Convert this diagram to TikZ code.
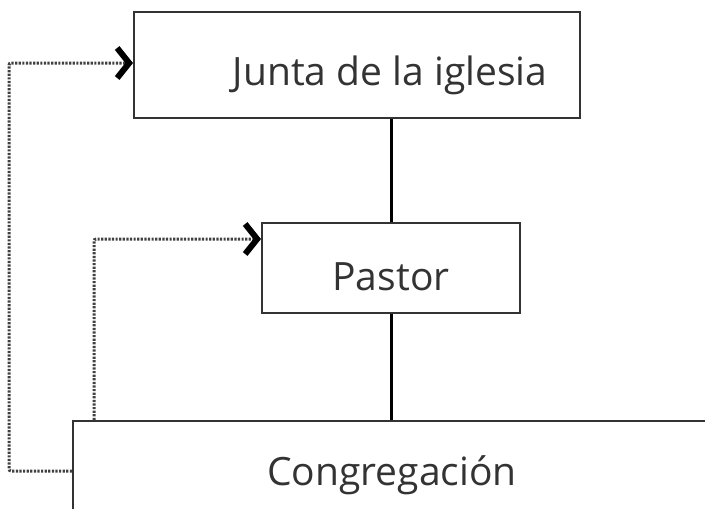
\documentclass[tikz,border=0pt]{standalone}
\usepackage{fontspec}
\setmainfont{Open Sans}
\usetikzlibrary{arrows.meta}

\begin{document}
\begin{tikzpicture}[x=1pt,y=-1pt,
  box/.style={draw=black!80,line width=2pt,inner sep=0pt},
  caption/.style={font=\fontsize{39}{46}\selectfont,text=black!80,anchor=base,inner sep=0pt},
  link/.style={line width=3pt,black},
  feedback/.style={line width=3pt,black!75,dash pattern=on 2.2pt off 1.4pt,rounded corners=2pt,
    -{Straight Barb[length=12pt,width=30pt,line width=6pt 0,color=black]}}]
  \useasboundingbox (0,0) rectangle (705,509);

  \node[box,minimum width=446pt,minimum height=106pt, name=junta] at (357,65) {};
  \node[caption, name=juntatxt] at (390,85) {Junta de la iglesia};
  \node[box,minimum width=258pt,minimum height=90pt, name=pastor] at (391,268) {};
  \node[caption, name=pastortxt] at (391,290) {Pastor};
  \node[box,minimum width=638pt,minimum height=100pt, name=congreg] at (392,471) {};
  \node[caption, name=congregtxt] at (392,485) {Congregación};

  \draw[link] (pastor.north) -- (pastor.north |- junta.south);
  \draw[link] (pastor.south) -- (pastor.south |- congreg.north);

  \draw[feedback] (congreg.west) -- ++(-63,0) |- ([yshift=2pt]junta.west);
  \draw[feedback] ([xshift=22pt]congreg.north west) |- ([yshift=29pt]pastor.west); %here

\end{tikzpicture}
\end{document}
